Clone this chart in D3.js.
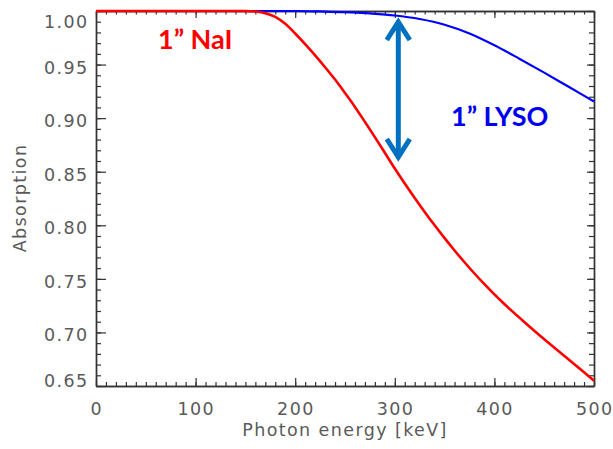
<!DOCTYPE html>
<html>
<head>
<meta charset="utf-8">
<script src="https://cdn.jsdelivr.net/npm/d3@7"></script>
<style>
  html, body { margin: 0; padding: 0; background: #fff; }
  svg { display: block; }
  .tick-label { font-family: "DejaVu Sans", sans-serif; font-size: 17.5px; fill: #5a5a5a; letter-spacing: 1.4px; }
  .axis-title { font-family: "DejaVu Sans", sans-serif; font-size: 17.5px; fill: #5a5a5a; letter-spacing: 1.4px; }
  .tag { font-family: Lato, "Open Sans", sans-serif; font-weight: 700; font-size: 27px; }
</style>
</head>
<body>
<svg id="chart" width="613" height="449"></svg>
<script>
// Photon energy grid (keV) and absorption fraction for 1-inch crystals
const energyNaI = [0, 150, 160, 170, 180, 190, 200, 210, 220, 230, 240, 250, 260, 270, 280, 290, 300,
                   310, 320, 330, 340, 350, 360, 370, 380, 390, 400, 410, 420, 430, 440, 450, 460, 470, 480, 490, 500];
const absorptionNaI = [1.000, 1.000, 0.9995, 0.998, 0.9945, 0.988, 0.979, 0.969, 0.9585, 0.9475, 0.936, 0.9235,
                       0.9105, 0.8965, 0.8823, 0.8677, 0.853, 0.839, 0.8255, 0.8125, 0.800, 0.788, 0.7765, 0.7655,
                       0.755, 0.745, 0.7355, 0.7265, 0.718, 0.7097, 0.7016, 0.6937, 0.6859, 0.6782, 0.6705, 0.6628, 0.655];

const energyLYSO = [0, 150, 200, 225, 250, 275, 300, 325, 350, 375, 400, 425, 450, 475, 500];
const absorptionLYSO = [1.000, 1.000, 1.000, 0.9996, 0.999, 0.9977, 0.9958, 0.9925, 0.9872, 0.979, 0.968,
                        0.9555, 0.9425, 0.929, 0.9155];

const xMajorTicks = [0, 100, 200, 300, 400, 500];
const yMajorTicks = [0.65, 0.70, 0.75, 0.80, 0.85, 0.90, 0.95, 1.00];
const seriesNames = ["1\u201d NaI", "1\u201d LYSO"];
const arrowEnergy = 300; // energy at which the gap between the curves is marked

const svg = d3.select("#chart");
const plotLeft = 96, plotRight = 594, plotTop = 11, plotBottom = 386;

const x = d3.scaleLinear().domain([0, 500]).range([plotLeft, plotRight]);
const y = d3.scaleLinear().domain([0.65, 1.00]).range([plotBottom, plotTop]);

const xMinor = d3.range(0, 501, 10);
const yMinor = d3.range(65, 101, 1).map(v => v / 100);
const axisColor = "#333";

function styleAxis(g) {
  g.select(".domain").attr("stroke", axisColor).attr("stroke-width", 1.4);
  g.selectAll(".tick line").attr("stroke", axisColor).attr("stroke-width", 1.2);
  g.selectAll(".tick text").remove();
}

// Minor and major ticks on all four sides, pointing inward
const sides = [
  { axis: d3.axisBottom(x), t: `translate(0,${plotBottom})`, vals: [xMinor, xMajorTicks], size: [4, 8] },
  { axis: d3.axisTop(x), t: `translate(0,${plotTop})`, vals: [xMinor, xMajorTicks], size: [3.5, 7] },
  { axis: d3.axisLeft(y), t: `translate(${plotLeft},0)`, vals: [yMinor, yMajorTicks], size: [5, 10] },
  { axis: d3.axisRight(y), t: `translate(${plotRight},0)`, vals: [yMinor, yMajorTicks], size: [5, 7] }
];
sides.forEach(s => {
  [0, 1].forEach(i => {
    svg.append("g").attr("transform", s.t)
      .call(s.axis.tickValues(s.vals[i]).tickSize(-s.size[i]).tickSizeOuter(0).tickFormat(""))
      .call(styleAxis);
  });
});

// Tick labels
svg.append("g").selectAll("text").data(xMajorTicks).join("text")
  .attr("class", "tick-label")
  .attr("x", d => x(d) + 0.7)
  .attr("y", 414.5)
  .attr("text-anchor", "middle")
  .text(d => d3.format("d")(d));

svg.append("g").selectAll("text").data(yMajorTicks).join("text")
  .attr("class", "tick-label")
  .attr("x", 88.5)
  .attr("y", d => Math.min(Math.max(y(d) + 2.5, 21), 380) + 6.5)
  .attr("text-anchor", "end")
  .text(d => d3.format(".2f")(d));

// Axis titles
svg.append("text").attr("class", "axis-title")
  .attr("x", 345).attr("y", 436).attr("text-anchor", "middle")
  .text("Photon energy [keV]");
svg.append("text").attr("class", "axis-title")
  .attr("transform", "translate(26,198) rotate(-90)")
  .attr("text-anchor", "middle")
  .text("Absorption");

// Curves
const line = d3.line().curve(d3.curveMonotoneX).x(d => x(d[0])).y(d => y(d[1]));
svg.append("path")
  .datum(energyLYSO.map((e, i) => [e, absorptionLYSO[i]]))
  .attr("d", line).attr("fill", "none").attr("stroke", "#0000ff").attr("stroke-width", 2.2);
svg.append("path")
  .datum(energyNaI.map((e, i) => [e, absorptionNaI[i]]))
  .attr("d", line).attr("fill", "none").attr("stroke", "#ff0000").attr("stroke-width", 2.6);

// Double-headed arrow between the two curves
const ax = x(arrowEnergy) + 3.5;
const yTop = 20, yBot = 159;
const arrow = svg.append("g").attr("stroke", "#0070c0").attr("stroke-width", 5)
  .attr("fill", "none").attr("stroke-linecap", "butt").attr("stroke-linejoin", "miter");
arrow.append("line").attr("x1", ax).attr("x2", ax).attr("y1", yTop + 3).attr("y2", yBot - 3);
arrow.append("path").attr("d", `M${ax - 11.5},${yTop + 20} L${ax},${yTop + 2} L${ax + 11.5},${yTop + 20}`);
arrow.append("path").attr("d", `M${ax - 11.5},${yBot - 20} L${ax},${yBot - 2} L${ax + 11.5},${yBot - 20}`);

// Series tags
svg.append("text").attr("class", "tag").attr("fill", "#ff0000")
  .attr("x", 158).attr("y", 49).text(seriesNames[0]);
svg.append("text").attr("class", "tag").attr("fill", "#0000f0")
  .attr("x", 451).attr("y", 126).text(seriesNames[1]);
</script>
</body>
</html>
